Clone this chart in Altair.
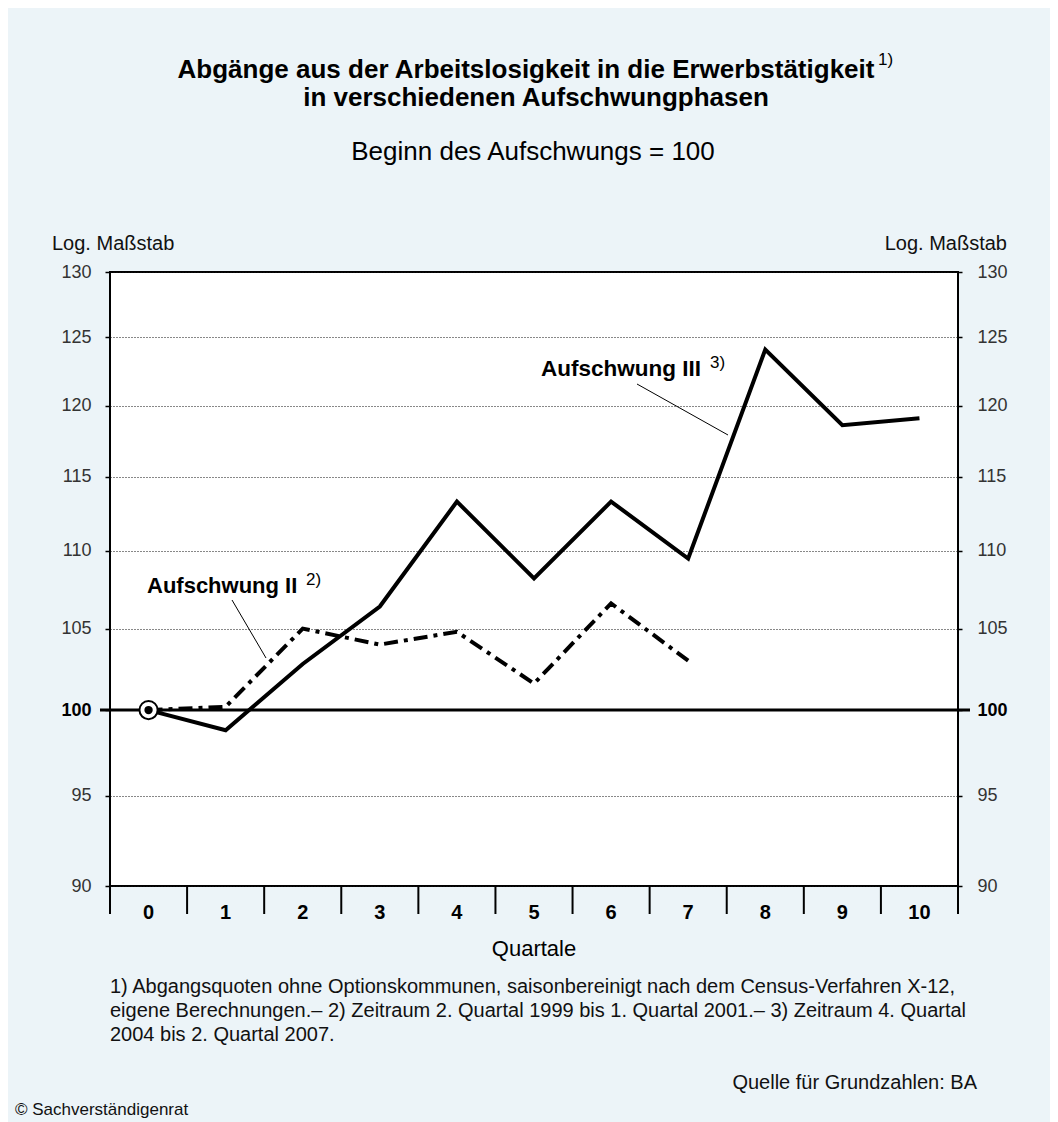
import altair as alt
import pandas as pd

# ---------------- data ----------------
quarters_iii = list(range(11))
aufschwung_iii = [100, 98.8, 102.8, 106.4, 113.3, 108.2, 113.3, 109.5, 124.1, 118.6, 119.1]
quarters_ii = list(range(8))
aufschwung_ii = [100, 100.2, 105.0, 104.0, 104.8, 101.6, 106.6, 103.0]
quarter_labels = list(range(11))
y_ticks = [90, 95, 100, 105, 110, 115, 120, 125, 130]
x_boundaries = [i - 0.5 for i in range(12)]
baseline_value = [100]

title_line1 = "Abgänge aus der Arbeitslosigkeit in die Erwerbstätigkeit"
title_line2 = "in verschiedenen Aufschwungphasen"
subtitle = "Beginn des Aufschwungs = 100"
log_label = "Log. Maßstab"
x_title = "Quartale"
label_iii = "Aufschwung III"
label_ii = "Aufschwung II"
footnotes = [
    "1) Abgangsquoten ohne Optionskommunen, saisonbereinigt nach dem Census-Verfahren X-12,",
    "eigene Berechnungen.– 2) Zeitraum  2. Quartal 1999 bis 1. Quartal 2001.– 3) Zeitraum 4. Quartal",
    "2004 bis 2. Quartal  2007.",
]
source = "Quelle für Grundzahlen: BA"
copyright_note = "© Sachverständigenrat"

# ---------------- frames ----------------
df_iii = pd.DataFrame({"q": quarters_iii, "v": aufschwung_iii})
df_ii = pd.DataFrame({"q": quarters_ii, "v": aufschwung_ii})
df_start = pd.DataFrame({"q": [quarters_iii[0]], "v": [aufschwung_iii[0]]})
df_base = pd.DataFrame({"v": baseline_value})
df_xlab = pd.DataFrame({"q": quarter_labels})
df_bound = pd.DataFrame({"q": x_boundaries})

FONT = "Liberation Sans"
W, H = 848, 614

x_scale = alt.Scale(domain=[-0.5, 10.5], nice=False, zero=False)
y_scale = alt.Scale(type="log", domain=[90, 130], nice=False)

bold100 = {"condition": {"test": "datum.value == 100", "value": "bold"}, "value": "normal"}
color100 = {"condition": {"test": "datum.value == 100", "value": "#000000"}, "value": "#333333"}

left_axis = alt.Axis(values=y_ticks, orient="left", title=None, domain=False,
                     tickSize=5, tickWidth=1.5, tickColor="black",
                     labelFont=FONT, labelFontSize=18, labelPadding=14,
                     labelColor=color100, labelFontWeight=bold100,
                     grid=True, gridDash=[1, 2], gridColor="#111111", gridWidth=1)
right_axis = alt.Axis(values=y_ticks, orient="right", title=None, domain=False,
                      tickSize=4, tickWidth=1.5, tickColor="black",
                      labelFont=FONT, labelFontSize=18, labelPadding=15,
                      labelColor=color100, labelFontWeight=bold100, grid=False)

X = alt.X("q:Q", scale=x_scale, axis=None)

line_iii = alt.Chart(df_iii).mark_line(color="black", strokeWidth=4, strokeJoin="miter").encode(
    x=X, y=alt.Y("v:Q", scale=y_scale, axis=left_axis),
)
line_ii = alt.Chart(df_ii).mark_line(color="black", strokeWidth=4, strokeDash=[14, 6, 4, 6],
                                     strokeJoin="miter").encode(
    x=X, y=alt.Y("v:Q", scale=y_scale, axis=right_axis),
)
base_rule = alt.Chart(df_base).mark_rule(color="black", strokeWidth=3).encode(
    y=alt.Y("v:Q", scale=y_scale, axis=None),
    x=alt.value(-10), x2=alt.value(W + 12),
)
x_ticks = alt.Chart(df_bound).mark_rule(color="black", strokeWidth=2).encode(
    x=X, y=alt.value(H), y2=alt.value(H + 28),
)
start_outer = alt.Chart(df_start).mark_point(shape="circle", filled=True, fill="white", stroke="black",
                                             strokeWidth=2, size=330, opacity=1).encode(
    x=X, y=alt.Y("v:Q", scale=y_scale, axis=None),
)
start_inner = alt.Chart(df_start).mark_point(shape="circle", filled=True, color="black",
                                             size=70, opacity=1).encode(
    x=X, y=alt.Y("v:Q", scale=y_scale, axis=None),
)
x_labels = alt.Chart(df_xlab).mark_text(font=FONT, fontSize=20, fontWeight="bold", color="black",
                                        baseline="middle", align="center").encode(
    x=X, y=alt.value(H + 27),
    text=alt.Text("q:Q", format="d"),
)


def txt(text, x, y, size, weight="normal", align="left", color="#111111"):
    return alt.Chart(alt.Data(values=[{}])).mark_text(
        text=text, font=FONT, fontSize=size, fontWeight=weight, align=align,
        baseline="alphabetic", color=color,
    ).encode(x=alt.value(x), y=alt.value(y))


leader_iii = alt.Chart(alt.Data(values=[{}])).mark_rule(color="black", strokeWidth=1).encode(
    x=alt.value(527), y=alt.value(112), x2=alt.value(618), y2=alt.value(163))
leader_ii = alt.Chart(alt.Data(values=[{}])).mark_rule(color="black", strokeWidth=1).encode(
    x=alt.value(122), y=alt.value(328), x2=alt.value(156), y2=alt.value(386))

texts = [
    txt(title_line1, 416, -194, 26, "bold", "center", "black"),
    txt("1)", 768, -207, 17, "normal", "left", "black"),
    txt(title_line2, 426, -166, 26, "bold", "center", "black"),
    txt(subtitle, 423, -112, 26, "normal", "center", "black"),
    txt(log_label, -58, -22, 20),
    txt(log_label, 897, -22, 20, align="right"),
    txt(x_title, 424, 684, 22, "normal", "center", "black"),
    txt(label_iii, 431, 104, 22.5, "bold", "left", "black"),
    txt("3)", 600, 96, 17, "normal", "left", "black"),
    txt(label_ii, 37, 321, 22, "bold", "left", "black"),
    txt("2)", 196, 313, 17, "normal", "left", "black"),
    txt(footnotes[0], 0, 721, 20),
    txt(footnotes[1], 0, 745, 20),
    txt(footnotes[2], 0, 769, 20),
    txt(source, 867, 817, 20, align="right"),
    txt(copyright_note, -95, 843, 17),
]

chart = alt.layer(
    line_iii, line_ii, base_rule, x_ticks, leader_iii, leader_ii, start_outer, start_inner, x_labels, *texts
).resolve_axis(y="independent").properties(
    width=W, height=H,
    background="#ECF4F8",
    padding={"left": 102, "top": 264, "right": 92, "bottom": 236},
    autosize=alt.AutoSizeParams(type="none"),
).configure(font=FONT).configure_view(stroke="black", strokeWidth=2, fill="white")

chart.save("out.html", embed_options={"renderer": "svg", "actions": False})
